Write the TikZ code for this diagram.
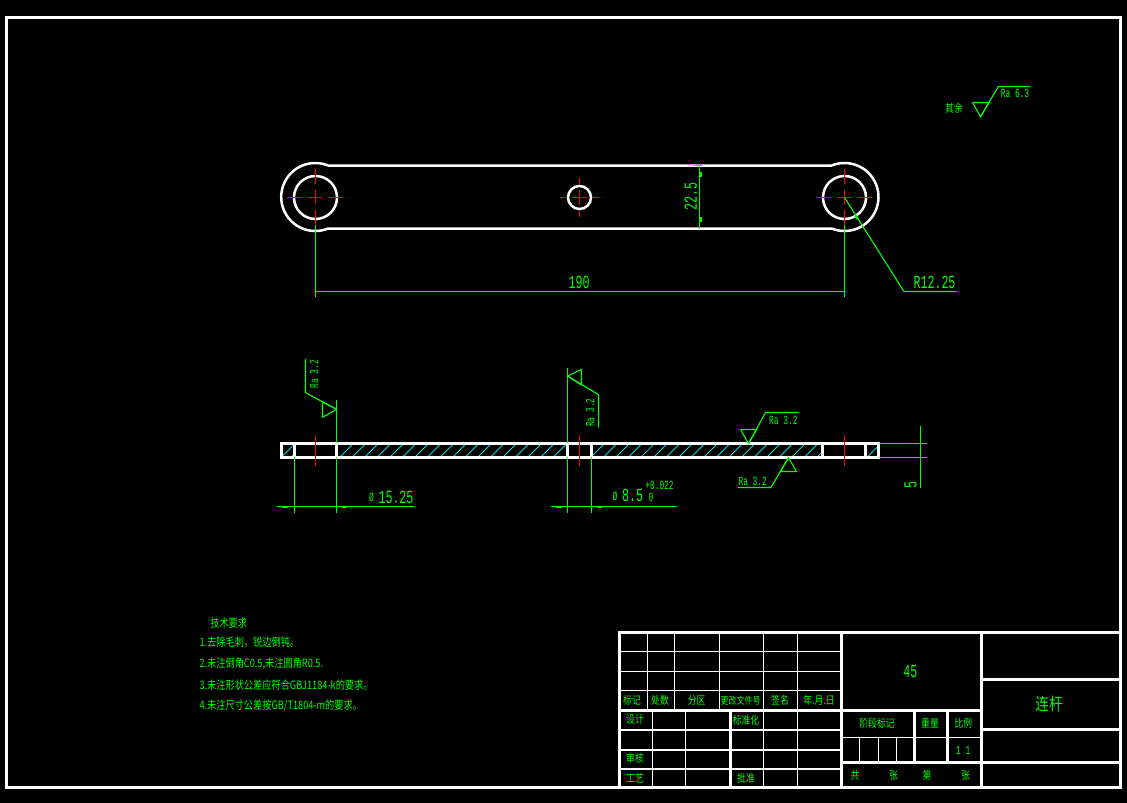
\documentclass[tikz,border=0pt]{standalone}
\usepackage{fontspec}
\usepackage{tikz}
\newfontfamily\cadnum[FakeStretch=0.63]{Liberation Mono}
\newfontfamily\cadcjk[FakeStretch=0.8]{Noto Sans CJK SC}
\definecolor{mgreen}{rgb}{0, 1, 0}
\definecolor{mred}{rgb}{1, 0, 0}
\definecolor{mcyan}{rgb}{0, 1, 1}
\tikzset{partline/.style = {white, line width = 2.5pt}}
\tikzset{cellthin/.style = {white, line width = 1pt}}
\tikzset{cellmid/.style = {white, line width = 2pt}}
\tikzset{cellthick/.style = {white, line width = 3pt}}
\tikzset{dimline/.style = {mgreen, line width = 1.1pt}}
\tikzset{centreline/.style = {mred, line width = 1.1pt}}
\tikzset{hatchline/.style = {mcyan, line width = 0.7pt}}
\tikzset{arrowmark/.style = {mgreen, line width = 2pt}}
\tikzset{numbig/.style = {mgreen, inner sep = 0, font = \cadnum\fontsize{18.5}{18.5}\selectfont}}
\tikzset{numsmall/.style = {mgreen, inner sep = 0, font = \cadnum\fontsize{12.5}{12.5}\selectfont}}
\tikzset{cjksmall/.style = {mgreen, inner sep = 0, font = \cadcjk\fontsize{11}{11}\selectfont}}
\tikzset{cjknote/.style = {mgreen, inner sep = 0, font = \cadcjk\fontsize{11.5}{11.5}\selectfont}}
\tikzset{cjktight/.style = {mgreen, inner sep = 0, font = \cadcjk\fontsize{10}{10}\selectfont}}
\tikzset{cjkbig/.style = {mgreen, inner sep = 0, font = \cadcjk\fontsize{17}{17}\selectfont}}
\begin{document}
\begin{tikzpicture}[x = 1pt, y = -1pt]
  \fill [black] (0, 0) rectangle (1127, 803);
  \useasboundingbox (0, 0) rectangle (1127, 803);

  % frame
  \draw [cellthick] (6.5, 17.5) rectangle (1120.5, 787.5);

  % top view
  \draw [partline] (328, 165.5) -- (831.7, 165.5) arc [start angle = 112.1, end angle = -112.1, radius = 34pt]
        -- (328, 228.5) arc [start angle = 292.1, end angle = 67.9, radius = 34pt];
  \draw [partline] (315.5, 197.5) circle [radius = 21.5pt];
  \draw [partline] (844.5, 197.5) circle [radius = 21.5pt];
  \draw [partline] (579.5, 197.5) circle [radius = 11.5pt];

  \foreach \cx in {315.5, 844.5} {
    \draw [centreline, dash pattern = on 14.7pt off 6pt] (\cx - 28.5, 197.5) -- (\cx + 28.5, 197.5);
    \draw [centreline, dash pattern = on 14.7pt off 6pt] (\cx, 169) -- (\cx, 226);
  }
  \draw [centreline, dash pattern = on 6pt off 6pt on 14.4pt off 6pt on 6pt] (560.3, 197.5) -- (598.7, 197.5);
  \draw [centreline, dash pattern = on 6pt off 6pt on 14.4pt off 6pt on 6pt] (579.5, 178.3) -- (579.5, 216.7);

  % top view dimensions
  \draw [dimline] (315.5, 225) -- (315.5, 296.7);
  \draw [dimline] (844.5, 225) -- (844.5, 296.7);
  \draw [dimline] (315.5, 291.5) -- (844.5, 291.5);
  \node [numbig] (len) at (579, 282) {190};

  \draw [dimline] (699.5, 165.5) -- (699.5, 228.5);
  \draw [dimline] (694, 165.5) -- (701.5, 165.5);
  \draw [arrowmark] (700.5, 172) -- (700.5, 177);
  \draw [arrowmark] (700.5, 217) -- (700.5, 222);
  \node [numbig, rotate = 90] (width) at (690.7, 196.7) {22.5};

  \draw [dimline] (844.5, 197.5) -- (904, 291.5) -- (956.7, 291.5);
  \draw [arrowmark] (855.5, 215.5) -- (858, 219.5);
  \node [numbig] (rad) at (934.5, 282) {R12.25};

  % remaining surfaces
  \node [cjksmall] (rest) at (954, 108.5) {其余};
  \draw [dimline] (972.5, 102.5) -- (989, 102.5) -- (980.5, 116.7) -- (972.5, 102.5);
  \draw [dimline] (980.5, 116.7) -- (998.5, 86.5) -- (1030.7, 86.5);
  \node [numsmall] (ra63) at (1015, 93.5) {Ra 6.3};

  % section view, hatching
  \begin{scope}
    \clip (282, 444) rectangle (294, 457) (336, 444) rectangle (567, 457)
          (591, 444) rectangle (822, 457) (866, 444) rectangle (878, 457);
    \foreach \hx in {0, 1, ..., 42}
      \draw [hatchline] (339.3 + 12.56 * \hx, 457.5) -- (353.3 + 12.56 * \hx, 443.5);
    \draw [hatchline] (281, 457.5) -- (295, 443.5);
    \draw [hatchline] (290.5, 457.5) -- (304.5, 443.5);
  \end{scope}

  \draw [partline] (281.7, 443.5) rectangle (878.7, 457.5);
  \foreach \vx in {294.5, 336.5, 567.5, 591.5, 822.5, 865.5}
    \draw [partline] (\vx, 443.5) -- (\vx, 457.5);
  \foreach \cx in {315.5, 579.5, 844.5}
    \draw [centreline] (\cx, 435) -- (\cx, 465.7);

  % section dimensions
  \draw [dimline] (294.5, 457) -- (294.5, 512.7);
  \draw [dimline] (336.5, 400) -- (336.5, 443);
  \draw [dimline] (336.5, 457) -- (336.5, 512.7);
  \draw [dimline] (277, 506.5) -- (414, 506.5);
  \draw [arrowmark] (282, 507) -- (288, 507);
  \draw [arrowmark] (342, 507) -- (347, 507);
  \node [numsmall] (dphi) at (371.5, 497.5) {Ø};
  \node [numbig] (dbig) at (396, 497.5) {15.25};

  \draw [dimline] (567.5, 368) -- (567.5, 443);
  \draw [dimline] (567.5, 457) -- (567.5, 512.7);
  \draw [dimline] (591.5, 457) -- (591.5, 512.7);
  \draw [dimline] (551, 506.5) -- (676.7, 506.5);
  \draw [arrowmark] (556, 507) -- (562, 507);
  \draw [arrowmark] (597, 507) -- (602, 507);
  \node [numsmall] (sphi) at (615, 496) {Ø};
  \node [numbig] (sbig) at (632.7, 495.5) {8.5};
  \node [numsmall] (stol) at (659.5, 485) {+0.022};
  \node [numsmall] (slow) at (651, 497) {0};

  \draw [dimline] (878.7, 443.5) -- (927, 443.5);
  \draw [dimline] (878.7, 457.5) -- (927, 457.5);
  \draw [dimline] (920.5, 426) -- (920.5, 487.7);
  \node [numbig, rotate = 90] (thick) at (910.5, 484.5) {5};

  % roughness marks
  \draw [dimline] (322.5, 401.7) -- (322.5, 417.3) -- (336.5, 409.3) -- (322.5, 401.7);
  \draw [dimline] (336.5, 409.3) -- (305.5, 392.7) -- (305.5, 359);
  \node [numsmall, rotate = 90] (raa) at (314.3, 374.3) {Ra 3.2};

  \draw [dimline] (581.5, 369.3) -- (581.5, 385) -- (567.5, 376) -- (581.5, 369.3);
  \draw [dimline] (567.5, 376) -- (598.5, 394.7) -- (598.5, 427.7);
  \node [numsmall, rotate = 90] (rab) at (590.3, 412.7) {Ra 3.2};

  \draw [dimline] (740.5, 429.5) -- (756.5, 429.5) -- (748.5, 443.7) -- (740.5, 429.5);
  \draw [dimline] (748.5, 443.7) -- (765.5, 412.5) -- (798.7, 412.5);
  \node [numsmall] (rac) at (783.3, 420.5) {Ra 3.2};

  \draw [dimline] (788.5, 457.5) -- (780.5, 471.5) -- (796.5, 471.5) -- (788.5, 457.5);
  \draw [dimline] (788.5, 457.5) -- (771, 487.5) -- (738, 487.5);
  \node [numsmall] (rad2) at (752.7, 481) {Ra 3.2};

  % notes
  \node [cjknote] (notehead) at (228.7, 623) {技术要求};
  \node [cjknote, anchor = west] (notea) at (199.3, 642.7) {1.去除毛刺，锐边倒钝。};
  \node [cjknote, anchor = west] (noteb) at (199.3, 664) {2.未注倒角C0.5,未注圆角R0.5.};
  \node [cjknote, anchor = west] (notec) at (199.3, 685.3) {3.未注形状公差应符合GBJ1184-k的要求。};
  \node [cjknote, anchor = west] (noted) at (199.3, 706) {4.未注尺寸公差按GB/T1804-m的要求。};

  % title block
  \draw [cellthick] (619.5, 787.5) -- (619.5, 632.5) -- (1120.5, 632.5);
  \foreach \ly in {651.5, 671.5, 690.5}
    \draw [cellthin] (619.5, \ly) -- (841.5, \ly);
  \foreach \lx in {647.5, 674.5, 719.5, 763.5, 797.5}
    \draw [cellthin] (\lx, 632.5) -- (\lx, 710.5);
  \foreach \lx in {652.5, 685.5, 763.5, 797.5}
    \draw [cellthin] (\lx, 710.5) -- (\lx, 787.5);
  \foreach \ly in {729.5, 749.5, 768.5}
    \draw [cellmid] (619.5, \ly) -- (841.5, \ly);
  \draw [cellthick] (619.5, 710.5) -- (981.5, 710.5);
  \draw [cellthick] (730.5, 710.5) -- (730.5, 787.5);
  \draw [cellthick] (841.5, 632.5) -- (841.5, 787.5);
  \draw [cellthick] (981.5, 632.5) -- (981.5, 787.5);
  \draw [cellthick] (841.5, 762.5) -- (1120.5, 762.5);
  \draw [cellthick] (981.5, 679.5) -- (1120.5, 679.5);
  \draw [cellthick] (981.5, 729.5) -- (1120.5, 729.5);
  \draw [cellthick] (914.5, 710.5) -- (914.5, 762.5);
  \draw [cellthick] (947.5, 710.5) -- (947.5, 762.5);
  \draw [cellthin] (841.5, 737.5) -- (981.5, 737.5);
  \foreach \lx in {859.5, 878.5, 896.5}
    \draw [cellthin] (\lx, 737.5) -- (\lx, 762.5);

  \node [cjksmall] (tba) at (632, 700.5) {标记};
  \node [cjksmall] (tbb) at (660, 700.5) {处数};
  \node [cjksmall] (tbc) at (696.7, 700.5) {分区};
  \node [cjktight] (tbd) at (740.5, 700.5) {更改文件号};
  \node [cjksmall] (tbe) at (780, 700.5) {签名};
  \node [cjksmall] (tbf) at (819, 700.5) {年.月.日};
  \node [cjksmall] (tbg) at (635, 719.7) {设计};
  \node [cjksmall] (tbh) at (746, 720) {标准化};
  \node [cjksmall] (tbi) at (635, 758) {审核};
  \node [cjksmall] (tbj) at (635, 778) {工艺};
  \node [cjksmall] (tbk) at (746, 778) {批准};
  \node [numbig] (tbl) at (910.3, 671.7) {45};
  \node [cjkbig] (tbm) at (1049, 704.3) {连杆};
  \node [cjksmall] (tbn) at (877, 723.3) {阶段标记};
  \node [cjksmall] (tbo) at (930, 723.3) {重量};
  \node [cjksmall] (tbp) at (963.3, 723.3) {比例};
  \node [numsmall] (tbq) at (963.3, 750.7) {1 1};
  \node [cjksmall] (tbr) at (855, 775.3) {共};
  \node [cjksmall] (tbs) at (893.7, 775.3) {张};
  \node [cjksmall] (tbt) at (927, 775.3) {第};
  \node [cjksmall] (tbu) at (965.7, 775.3) {张};
\end{tikzpicture}
\end{document}
